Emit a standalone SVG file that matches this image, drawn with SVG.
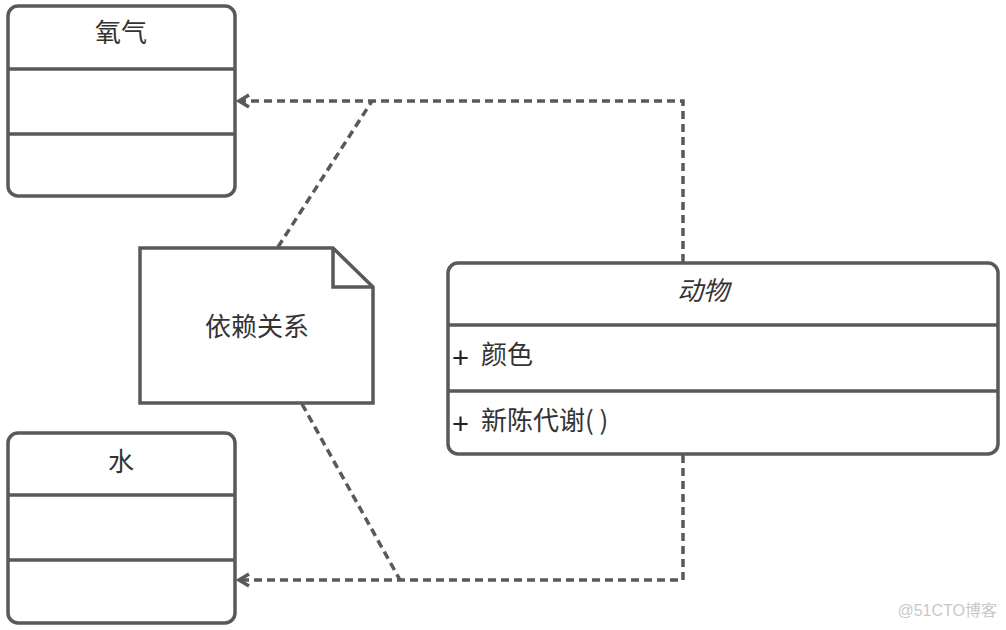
<svg xmlns="http://www.w3.org/2000/svg" width="1006" height="630" viewBox="0 0 1006 630">
<style>
.box{fill:#fff;stroke:#595959;stroke-width:3.5}
.sep{stroke:#595959;stroke-width:3.5;fill:none}
.dash{stroke:#595959;stroke-width:3.5;fill:none;stroke-dasharray:8 5}
.t{font-family:"Noto Sans CJK SC","Liberation Sans",sans-serif;font-size:26px;fill:#333}
.p{font-family:"Liberation Sans",sans-serif;font-size:29px;fill:#222}
.c{text-anchor:middle}
</style>
<defs>
<marker id="open" markerWidth="16" markerHeight="16" refX="13" refY="8" orient="auto" markerUnits="userSpaceOnUse">
<path d="M3,2 L13,8 L3,14" fill="none" stroke="#595959" stroke-width="3.5"/>
</marker>
</defs>
<rect width="1006" height="630" fill="#fff"/>
<g id="connectors">
<path class="dash" d="M683,262 V101 H239" marker-end="url(#open)"/>
<path class="dash" d="M683,455 V580 H239" marker-end="url(#open)"/>
<path class="dash" d="M278,247 L372,101"/>
<path class="dash" d="M302,404 L400,580"/>
</g>
<g id="oxygen">
<rect class="box" x="8" y="6" width="227" height="190" rx="10"/>
<path class="sep" d="M8,69 H235 M8,134 H235"/>
<text class="t c" x="121" y="42" fill="#222">氧气</text>
</g>
<g id="water">
<rect class="box" x="8" y="433" width="227" height="190" rx="10"/>
<path class="sep" d="M8,495 H235 M8,560 H235"/>
<text class="t c" x="121" y="471">水</text>
</g>
<g id="note">
<path class="box" d="M140,248 H333 L373,287 V403 H140 Z"/>
<path class="sep" d="M333,248 V287 H373"/>
<text class="t c" x="257" y="336">依赖关系</text>
</g>
<g id="animal">
<rect class="box" x="448" y="263" width="550" height="191" rx="10"/>
<path class="sep" d="M448,325 H998 M448,391 H998"/>
<text class="t c" x="703" y="300" font-style="italic">动物</text>
<text class="p" x="452" y="368">+</text>
<text class="t" x="481" y="364">颜色</text>
<text class="p" x="452" y="434">+</text>
<text class="t" x="481" y="430">新陈代谢( )</text>
</g>
<text x="997" y="616" text-anchor="end" font-family="Liberation Sans,'Noto Sans CJK SC',sans-serif" font-size="16" fill="#c8c8c8">@51CTO博客</text>
</svg>
